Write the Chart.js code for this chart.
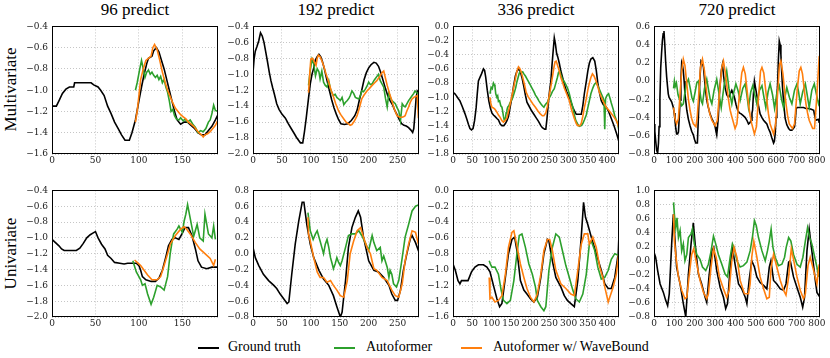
<!DOCTYPE html>
<html>
<head>
<meta charset="utf-8">
<script src="https://cdn.jsdelivr.net/npm/chart.js@4.4.1/dist/chart.umd.min.js"></script>
<style>
body { margin: 0; background: #fff; width: 830px; height: 358px; position: relative; overflow: hidden; font-family: "Liberation Serif", serif; }
canvas { position: absolute; }
.title { position: absolute; width: 166px; text-align: center; font-size: 17px; line-height: 17px; top: 1px; color: #000; }
.rowlab { position: absolute; font-size: 17px; line-height: 17px; width: 120px; text-align: center; transform: rotate(-90deg); color: #000; }
.leg { position: absolute; top: 339px; font-size: 14px; line-height: 16px; color: #000; }
.legline { position: absolute; top: 347px; height: 1.5px; width: 21px; }
</style>
</head>
<body>
<div class="title" style="left:52px">96 predict</div>
<div class="title" style="left:253px">192 predict</div>
<div class="title" style="left:453px">336 predict</div>
<div class="title" style="left:654px">720 predict</div>
<div class="rowlab" style="left:-50px;top:81px">Multivariate</div>
<div class="rowlab" style="left:-50px;top:245px">Univariate</div>

<div class="legline" style="left:198px;background:#000"></div>
<div class="leg" style="left:228px">Ground truth</div>
<div class="legline" style="left:334px;background:#2ca02c"></div>
<div class="leg" style="left:366px">Autoformer</div>
<div class="legline" style="left:461px;background:#ff7f0e"></div>
<div class="leg" style="left:493px">Autoformer w/ WaveBound</div>

<canvas id="c1"></canvas><canvas id="c2"></canvas><canvas id="c3"></canvas><canvas id="c4"></canvas>
<canvas id="c5"></canvas><canvas id="c6"></canvas><canvas id="c7"></canvas><canvas id="c8"></canvas>

<script>
// ---- tick labels ----
var xTicks96 = [0, 50, 100, 150];
var xTicks192 = [0, 50, 100, 150, 200, 250];
var xTicks336 = [0, 50, 100, 150, 200, 250, 300, 350, 400];
var xTicks720 = [0, 100, 200, 300, 400, 500, 600, 700, 800];

// ---- Multivariate, 96 ----
var mv96Truth = [[0,-1.15],[5,-1.15],[8,-1.1],[12,-1.03],[16,-0.99],[20,-0.97],[25,-0.97],[26,-0.93],[45,-0.93],[48,-0.95],[53,-0.97],[56,-1.0],[60,-1.05],[64,-1.15],[68,-1.22],[72,-1.3],[76,-1.36],[80,-1.42],[84,-1.47],[89,-1.47],[92,-1.4],[96,-1.28],[100,-1.1],[103,-0.97],[106,-0.85],[109,-0.75],[111,-0.7],[115,-0.68],[117,-0.63],[120,-0.6],[123,-0.64],[126,-0.72],[129,-0.8],[132,-0.9],[135,-1.0],[138,-1.1],[141,-1.2],[144,-1.28],[148,-1.32],[152,-1.3],[156,-1.3],[160,-1.33],[164,-1.36],[168,-1.4],[172,-1.42],[176,-1.42],[180,-1.38],[184,-1.34],[188,-1.28],[191,-1.23]];
var mv96Auto = [[96,-1.0],[98,-0.93],[101,-0.8],[103,-0.72],[105,-0.8],[107,-0.88],[109,-0.83],[111,-0.81],[113,-0.85],[115,-0.83],[117,-0.86],[119,-0.88],[121,-0.86],[123,-0.9],[125,-0.87],[127,-0.93],[129,-0.9],[131,-0.97],[133,-1.02],[135,-1.1],[137,-1.2],[139,-1.18],[141,-1.24],[143,-1.27],[146,-1.28],[148,-1.26],[151,-1.29],[153,-1.27],[156,-1.3],[159,-1.28],[162,-1.32],[165,-1.35],[168,-1.4],[171,-1.38],[174,-1.39],[177,-1.36],[180,-1.3],[182,-1.28],[184,-1.22],[186,-1.14],[188,-1.19],[191,-1.2]];
var mv96Wave = [[96,-1.3],[98,-1.2],[100,-1.05],[102,-0.9],[105,-0.8],[108,-0.72],[111,-0.7],[114,-0.68],[116,-0.6],[118,-0.57],[121,-0.62],[124,-0.72],[127,-0.83],[130,-0.92],[133,-1.0],[136,-1.06],[139,-1.12],[142,-1.17],[145,-1.2],[148,-1.23],[151,-1.25],[154,-1.27],[157,-1.3],[160,-1.32],[163,-1.34],[166,-1.37],[169,-1.4],[172,-1.42],[174,-1.44],[176,-1.42],[179,-1.41],[182,-1.39],[185,-1.36],[188,-1.33],[191,-1.28]];

// ---- Multivariate, 192 ----
var mv192Truth = [[0,-0.98],[2,-0.8],[4,-0.71],[7,-0.65],[10,-0.58],[13,-0.48],[16,-0.52],[19,-0.6],[22,-0.72],[25,-0.84],[28,-0.97],[31,-1.08],[34,-1.17],[37,-1.25],[41,-1.37],[45,-1.44],[50,-1.5],[56,-1.55],[61,-1.62],[66,-1.68],[71,-1.74],[75,-1.79],[79,-1.83],[82,-1.86],[86,-1.86],[89,-1.72],[92,-1.55],[96,-1.3],[99,-1.12],[102,-1.0],[105,-0.92],[108,-0.82],[111,-0.78],[114,-0.75],[117,-0.78],[120,-0.84],[124,-0.95],[128,-1.08],[132,-1.2],[136,-1.32],[140,-1.42],[144,-1.5],[148,-1.57],[152,-1.62],[158,-1.63],[164,-1.62],[170,-1.58],[176,-1.52],[180,-1.45],[184,-1.32],[188,-1.2],[192,-1.07],[196,-0.98],[200,-0.92],[204,-0.88],[209,-0.85],[213,-0.86],[217,-0.9],[221,-0.98],[225,-1.08],[229,-1.18],[233,-1.27],[237,-1.33],[241,-1.38],[245,-1.45],[249,-1.51],[253,-1.57],[257,-1.62],[261,-1.64],[265,-1.65],[269,-1.67],[273,-1.7],[276,-1.73],[278,-1.68],[280,-1.5],[282,-1.3],[284,-1.21],[287,-1.24]];
var mv192Auto = [[96,-1.14],[99,-0.95],[102,-0.81],[105,-0.87],[108,-1.02],[111,-0.93],[114,-0.97],[116,-1.06],[119,-0.96],[122,-1.1],[125,-1.14],[128,-1.16],[131,-1.08],[134,-1.19],[137,-1.24],[139,-1.27],[142,-1.25],[145,-1.29],[148,-1.31],[151,-1.33],[154,-1.29],[157,-1.38],[160,-1.35],[163,-1.33],[166,-1.3],[168,-1.27],[171,-1.21],[174,-1.24],[177,-1.29],[180,-1.3],[183,-1.31],[186,-1.26],[188,-1.21],[191,-1.22],[194,-1.19],[197,-1.15],[200,-1.1],[203,-1.13],[206,-1.12],[209,-1.08],[211,-1.06],[214,-1.03],[217,-1.0],[220,-1.08],[223,-1.12],[226,-1.16],[229,-1.3],[232,-1.41],[235,-1.23],[238,-1.3],[240,-1.33],[243,-1.35],[246,-1.37],[249,-1.42],[252,-1.46],[255,-1.58],[258,-1.37],[261,-1.4],[263,-1.41],[266,-1.37],[269,-1.33],[272,-1.3],[275,-1.27],[278,-1.24],[280,-1.21],[283,-1.23],[287,-1.25]];
var mv192Wave = [[96,-1.23],[98,-1.0],[100,-0.81],[103,-0.8],[105,-0.83],[107,-0.86],[109,-0.89],[111,-0.8],[113,-0.76],[116,-0.78],[119,-0.83],[122,-0.89],[126,-0.99],[131,-1.1],[135,-1.2],[139,-1.28],[143,-1.37],[148,-1.46],[152,-1.51],[157,-1.56],[161,-1.6],[165,-1.62],[168,-1.64],[171,-1.63],[175,-1.59],[180,-1.52],[184,-1.42],[188,-1.31],[192,-1.26],[197,-1.21],[201,-1.18],[206,-1.14],[210,-1.11],[214,-1.08],[217,-1.05],[220,-1.02],[223,-0.98],[226,-0.96],[229,-1.05],[232,-1.14],[236,-1.24],[240,-1.33],[244,-1.43],[249,-1.52],[254,-1.54],[258,-1.54],[261,-1.53],[263,-1.52],[266,-1.46],[269,-1.41],[272,-1.35],[275,-1.31],[278,-1.29],[281,-1.28],[284,-1.27],[286,-1.55]];

// ---- Multivariate, 336 ----
var mv336Truth = [[0,-0.93],[5,-0.95],[9,-0.98],[14,-1.02],[18,-1.05],[24,-1.13],[31,-1.23],[36,-1.31],[40,-1.38],[44,-1.44],[48,-1.46],[52,-1.44],[56,-1.33],[60,-1.15],[63,-0.95],[66,-0.77],[70,-0.72],[74,-0.67],[79,-0.6],[82,-0.62],[85,-0.72],[89,-0.9],[93,-1.05],[97,-1.15],[101,-1.22],[105,-1.25],[109,-1.27],[114,-1.3],[118,-1.32],[123,-1.38],[127,-1.4],[132,-1.4],[136,-1.37],[140,-1.33],[144,-1.27],[148,-1.15],[153,-1.0],[157,-0.85],[162,-0.7],[166,-0.63],[171,-0.6],[175,-0.64],[179,-0.72],[184,-0.85],[188,-0.97],[192,-1.07],[198,-1.13],[204,-1.19],[210,-1.24],[216,-1.29],[222,-1.34],[228,-1.4],[232,-1.43],[238,-1.45],[241,-1.45],[244,-1.3],[248,-1.05],[251,-0.9],[254,-0.78],[257,-0.55],[260,-0.35],[263,-0.16],[266,-0.25],[269,-0.38],[272,-0.43],[276,-0.52],[280,-0.63],[285,-0.73],[289,-0.82],[295,-0.92],[302,-1.0],[307,-1.08],[311,-1.14],[316,-1.2],[320,-1.24],[333,-1.24],[337,-1.12],[341,-0.95],[346,-0.78],[350,-0.63],[354,-0.52],[358,-0.46],[363,-0.44],[368,-0.49],[372,-0.62],[376,-0.8],[381,-0.95],[385,-1.05],[390,-1.1],[398,-1.14],[404,-1.2],[411,-1.3],[418,-1.4],[424,-1.5],[428,-1.57],[431,-1.63]];
var mv336Auto = [[96,-0.95],[99,-0.86],[102,-0.88],[105,-0.8],[107,-0.82],[109,-0.85],[111,-0.95],[114,-1.0],[116,-0.98],[118,-1.06],[121,-1.05],[124,-1.12],[127,-1.14],[129,-1.2],[131,-1.27],[133,-1.32],[136,-1.3],[138,-1.22],[140,-1.18],[142,-1.14],[145,-1.12],[148,-1.08],[151,-1.05],[154,-1.02],[157,-0.97],[160,-0.92],[163,-0.86],[166,-0.78],[169,-0.72],[172,-0.66],[175,-0.63],[178,-0.65],[181,-0.64],[184,-0.67],[188,-0.7],[192,-0.74],[196,-0.78],[201,-0.83],[205,-0.87],[210,-0.92],[214,-0.97],[219,-1.01],[223,-1.05],[228,-1.09],[232,-1.12],[236,-1.14],[240,-1.1],[245,-1.07],[249,-1.02],[254,-0.97],[258,-0.92],[263,-0.88],[267,-0.8],[271,-0.72],[274,-0.65],[277,-0.63],[280,-0.68],[284,-0.74],[289,-0.78],[293,-0.82],[298,-0.88],[302,-0.95],[306,-1.04],[311,-1.14],[315,-1.25],[319,-1.33],[324,-1.38],[328,-1.41],[333,-1.4],[337,-1.37],[341,-1.32],[346,-1.25],[350,-1.15],[354,-1.05],[358,-0.95],[363,-0.87],[367,-0.82],[372,-0.79],[376,-0.84],[381,-0.9],[385,-0.95],[389,-1.0],[392,-1.05],[394,-1.45],[396,-1.02],[400,-0.97],[404,-0.95],[408,-1.02],[411,-1.08],[416,-1.17],[420,-1.26],[424,-1.32],[428,-1.38],[431,-1.48]];
var mv336Wave = [[96,-1.0],[98,-1.08],[101,-1.14],[105,-1.15],[109,-1.17],[114,-1.21],[118,-1.25],[122,-1.28],[127,-1.33],[131,-1.35],[135,-1.33],[140,-1.29],[144,-1.2],[149,-1.08],[153,-0.98],[158,-0.85],[162,-0.74],[166,-0.63],[170,-0.57],[173,-0.59],[177,-0.64],[181,-0.72],[186,-0.83],[190,-0.93],[195,-0.99],[201,-1.04],[207,-1.09],[214,-1.14],[220,-1.19],[226,-1.23],[232,-1.26],[236,-1.26],[241,-1.22],[245,-1.13],[249,-1.0],[254,-0.85],[258,-0.72],[262,-0.58],[265,-0.5],[268,-0.49],[272,-0.56],[276,-0.63],[280,-0.72],[285,-0.8],[289,-0.87],[295,-0.95],[302,-1.05],[308,-1.18],[315,-1.3],[320,-1.37],[324,-1.4],[329,-1.4],[333,-1.37],[337,-1.27],[341,-1.15],[346,-1.02],[350,-0.9],[354,-0.8],[358,-0.72],[362,-0.67],[366,-0.7],[370,-0.75],[375,-0.83],[380,-0.93],[385,-1.0],[392,-1.08],[398,-1.14],[404,-1.18],[411,-1.23],[418,-1.28],[424,-1.33],[428,-1.38],[431,-1.44]];

// ---- Multivariate, 720 ----
var mv720Truth = [[0,-0.47],[4,-0.55],[8,-0.65],[13,-0.76],[18,-0.79],[22,-0.68],[25,-0.5],[29,-0.2],[33,0.15],[37,0.3],[41,0.44],[45,0.52],[49,0.55],[53,0.4],[57,0.22],[62,0.05],[66,-0.05],[70,-0.14],[74,-0.18],[80,-0.2],[87,-0.23],[95,-0.29],[99,-0.35],[103,-0.43],[107,-0.52],[111,-0.58],[116,-0.58],[120,-0.56],[124,-0.4],[128,-0.21],[132,0.0],[136,0.2],[140,0.17],[144,0.11],[148,0.0],[152,-0.14],[157,-0.24],[161,-0.32],[169,-0.42],[177,-0.49],[185,-0.55],[193,-0.59],[199,-0.64],[205,-0.68],[213,-0.68],[217,-0.45],[221,-0.21],[226,0.05],[231,0.22],[237,0.2],[243,0.15],[248,0.02],[254,-0.12],[260,-0.22],[267,-0.29],[275,-0.36],[284,-0.41],[292,-0.45],[300,-0.5],[304,-0.55],[308,-0.59],[312,-0.5],[316,-0.39],[321,-0.15],[326,0.0],[331,0.12],[336,0.18],[342,0.05],[349,-0.07],[357,-0.15],[366,-0.18],[374,-0.14],[382,-0.1],[389,-0.14],[395,-0.18],[403,-0.26],[411,-0.32],[419,-0.35],[428,-0.36],[438,-0.38],[448,-0.4],[456,-0.43],[464,-0.47],[470,-0.46],[477,-0.43],[481,-0.35],[484,-0.32],[488,-0.15],[493,0.0],[499,-0.08],[505,-0.16],[513,-0.27],[521,-0.36],[530,-0.4],[538,-0.43],[546,-0.45],[554,-0.47],[562,-0.52],[570,-0.56],[578,-0.62],[587,-0.68],[591,-0.66],[595,-0.58],[599,-0.4],[603,-0.2],[607,-0.03],[611,0.25],[615,0.44],[619,0.4],[623,0.29],[627,0.1],[631,-0.07],[637,-0.25],[644,-0.41],[652,-0.48],[661,-0.52],[669,-0.54],[677,-0.54],[684,-0.52],[690,-0.5],[694,-0.42],[698,-0.3],[704,-0.29],[710,-0.29],[722,-0.29],[734,-0.29],[746,-0.3],[759,-0.3],[772,-0.31],[784,-0.32],[788,-0.37],[792,-0.41],[796,-0.43],[800,-0.43],[806,-0.42],[810,-0.44],[815,-0.43]];
var mv720Auto = [[96,-0.08],[100,0.0],[104,-0.06],[110,-0.02],[118,-0.15],[128,-0.22],[136,-0.27],[144,-0.25],[152,-0.12],[160,-0.02],[169,0.02],[178,-0.08],[186,-0.18],[193,-0.22],[202,-0.12],[210,-0.02],[218,0.0],[226,-0.12],[232,-0.22],[238,-0.25],[248,-0.08],[259,0.02],[268,-0.1],[276,-0.2],[284,-0.25],[295,-0.1],[308,0.02],[318,-0.12],[330,-0.29],[344,-0.05],[357,0.11],[368,-0.08],[382,-0.25],[392,-0.12],[402,-0.03],[412,-0.1],[423,-0.21],[436,-0.08],[448,-0.03],[456,-0.15],[464,-0.29],[475,-0.12],[485,-0.05],[495,-0.15],[505,-0.25],[518,-0.1],[530,-0.05],[540,-0.18],[549,-0.29],[560,-0.12],[570,-0.03],[582,-0.15],[592,-0.3],[604,-0.12],[615,-0.05],[626,-0.2],[636,-0.29],[645,-0.15],[652,-0.07],[665,-0.18],[677,-0.25],[690,-0.1],[702,-0.03],[710,-0.12],[718,-0.25],[730,-0.12],[743,-0.03],[752,-0.15],[762,-0.29],[775,-0.1],[787,-0.03],[798,-0.15],[808,-0.25],[815,-0.2]];
var mv720Wave = [[96,-0.29],[103,-0.41],[111,-0.47],[120,-0.41],[128,-0.14],[136,0.11],[144,0.24],[152,0.17],[161,-0.03],[169,-0.2],[177,-0.32],[185,-0.41],[193,-0.47],[206,-0.5],[212,-0.4],[218,-0.21],[228,0.15],[238,0.24],[248,0.11],[256,-0.08],[264,-0.25],[274,-0.36],[284,-0.43],[300,-0.49],[311,-0.43],[321,-0.14],[333,0.15],[341,0.22],[349,0.11],[358,-0.06],[366,-0.21],[374,-0.32],[382,-0.39],[398,-0.52],[407,-0.47],[418,-0.18],[431,0.09],[439,0.15],[448,0.08],[456,-0.08],[464,-0.25],[472,-0.38],[480,-0.47],[493,-0.58],[503,-0.5],[513,-0.18],[523,0.11],[530,0.15],[539,0.09],[546,-0.05],[554,-0.21],[562,-0.36],[570,-0.47],[587,-0.58],[597,-0.47],[608,-0.1],[616,0.18],[623,0.22],[633,0.08],[640,-0.08],[648,-0.25],[656,-0.38],[664,-0.47],[680,-0.52],[690,-0.47],[703,-0.1],[713,0.11],[721,0.15],[729,0.08],[737,-0.08],[746,-0.25],[754,-0.35],[762,-0.43],[779,-0.52],[788,-0.52],[798,-0.21],[805,0.04],[811,0.27],[815,0.28]];

// ---- Univariate, 96 ----
var uv96Truth = [[0,-1.02],[4,-1.06],[8,-1.1],[11,-1.14],[14,-1.16],[17,-1.16],[28,-1.16],[32,-1.13],[36,-1.07],[40,-1.0],[44,-0.96],[47,-0.94],[50,-0.92],[53,-1.0],[57,-1.08],[61,-1.14],[64,-1.22],[68,-1.26],[72,-1.31],[78,-1.32],[83,-1.33],[87,-1.32],[91,-1.32],[97,-1.32],[100,-1.35],[102,-1.41],[104,-1.49],[108,-1.53],[114,-1.55],[119,-1.55],[123,-1.51],[127,-1.41],[131,-1.24],[134,-1.1],[138,-1.02],[142,-1.0],[146,-1.02],[150,-0.94],[153,-0.87],[157,-0.87],[161,-0.97],[165,-1.14],[168,-1.29],[172,-1.37],[178,-1.39],[184,-1.37],[188,-1.37],[191,-1.37]];
var uv96Auto = [[93,-1.29],[97,-1.43],[100,-1.49],[102,-1.53],[104,-1.6],[107,-1.58],[110,-1.71],[114,-1.84],[117,-1.75],[121,-1.6],[125,-1.62],[129,-1.66],[133,-1.49],[136,-1.2],[138,-1.06],[140,-0.95],[144,-0.89],[146,-0.85],[150,-0.93],[152,-0.79],[154,-0.7],[156,-0.58],[159,-0.75],[163,-0.98],[167,-0.83],[170,-1.0],[174,-1.04],[176,-0.7],[180,-0.95],[184,-1.0],[186,-0.85],[188,-1.02]];
var uv96Wave = [[95,-1.28],[98,-1.31],[102,-1.35],[106,-1.41],[110,-1.47],[115,-1.53],[121,-1.53],[125,-1.49],[129,-1.35],[133,-1.2],[136,-1.08],[142,-0.97],[148,-0.89],[152,-0.86],[155,-0.89],[159,-0.95],[165,-1.06],[170,-1.14],[176,-1.2],[182,-1.26],[186,-1.35],[188,-1.27]];

// ---- Univariate, 192 ----
var uv192Truth = [[0,0.08],[4,-0.05],[10,-0.15],[18,-0.26],[27,-0.34],[36,-0.4],[41,-0.44],[47,-0.51],[53,-0.57],[59,-0.63],[62,-0.61],[67,-0.26],[73,0.12],[79,0.41],[85,0.65],[88,0.65],[93,0.37],[99,0.12],[105,-0.05],[114,-0.21],[122,-0.32],[131,-0.4],[139,-0.53],[145,-0.67],[151,-0.8],[154,-0.74],[160,-0.34],[165,0.08],[171,0.33],[177,0.46],[182,0.54],[186,0.46],[191,0.21],[200,-0.09],[209,-0.21],[217,-0.23],[226,-0.3],[235,-0.4],[240,-0.51],[246,-0.59],[250,-0.59],[255,-0.46],[260,-0.21],[266,0.0],[272,0.19],[275,0.23],[281,0.14],[287,0.02]];
var uv192Auto = [[95,0.52],[99,0.29],[104,0.18],[108,0.25],[111,0.29],[114,0.21],[116,0.16],[119,0.08],[122,0.0],[125,0.12],[128,0.18],[131,0.08],[134,-0.05],[137,-0.13],[139,-0.19],[142,-0.13],[145,-0.05],[148,-0.11],[151,-0.15],[154,-0.09],[160,0.08],[165,0.23],[171,0.25],[177,0.25],[183,0.29],[188,0.23],[194,0.14],[200,0.04],[206,0.23],[209,0.14],[214,0.04],[220,0.08],[223,-0.09],[226,-0.03],[232,-0.17],[235,-0.3],[237,-0.21],[240,-0.26],[243,-0.38],[248,-0.42],[252,-0.34],[258,-0.05],[263,0.21],[269,0.37],[275,0.54],[281,0.6],[287,0.62]];
var uv192Wave = [[95,0.46],[96,0.25],[99,0.16],[105,-0.05],[111,-0.23],[116,-0.3],[122,-0.3],[128,-0.36],[134,-0.34],[139,-0.4],[145,-0.46],[151,-0.53],[157,-0.55],[163,-0.34],[168,0.0],[174,0.16],[180,0.29],[186,0.33],[191,0.21],[197,0.08],[203,0.0],[209,-0.19],[214,-0.21],[223,-0.3],[232,-0.34],[240,-0.46],[246,-0.53],[252,-0.55],[258,-0.38],[263,-0.09],[269,0.12],[275,0.29],[281,0.27],[286,0.12]];

// ---- Univariate, 336 ----
var uv336Truth = [[0,-0.93],[6,-1.01],[13,-1.14],[18,-1.18],[22,-1.14],[31,-1.14],[39,-1.14],[48,-1.03],[57,-0.97],[66,-0.94],[79,-0.94],[88,-0.97],[96,-1.03],[105,-1.2],[114,-1.37],[121,-1.47],[127,-1.43],[136,-1.1],[144,-0.8],[153,-0.62],[160,-0.59],[166,-0.76],[175,-1.14],[184,-1.26],[192,-1.31],[201,-1.37],[210,-1.41],[219,-1.35],[228,-1.1],[236,-0.8],[245,-0.62],[249,-0.64],[258,-0.89],[267,-1.1],[280,-1.22],[289,-1.33],[297,-1.39],[306,-1.43],[315,-1.47],[324,-1.14],[333,-0.59],[339,-0.15],[344,-0.34],[350,-0.43],[359,-0.59],[372,-0.8],[385,-1.01],[394,-1.18],[403,-1.24],[411,-1.24],[420,-1.1],[429,-0.8],[431,-0.55]];
var uv336Auto = [[94,-0.89],[97,-0.93],[101,-0.97],[109,-0.97],[118,-1.06],[125,-1.26],[131,-1.39],[140,-1.43],[149,-1.39],[158,-1.14],[166,-0.8],[172,-0.57],[179,-0.55],[188,-0.72],[197,-0.93],[206,-1.06],[214,-1.22],[219,-1.39],[228,-1.47],[236,-1.52],[241,-1.47],[249,-1.01],[258,-0.72],[267,-0.55],[276,-0.59],[284,-0.76],[293,-0.95],[302,-1.1],[311,-1.26],[319,-1.37],[328,-1.41],[337,-1.31],[346,-1.06],[354,-0.68],[359,-0.64],[368,-0.76],[376,-0.97],[385,-1.12],[394,-1.1],[403,-1.01],[411,-0.87],[420,-0.8],[429,-0.82],[431,-0.87]];
var uv336Wave = [[94,-1.1],[96,-1.37],[101,-1.35],[109,-1.41],[118,-1.39],[127,-1.33],[136,-1.06],[144,-0.72],[153,-0.53],[158,-0.51],[166,-0.7],[175,-0.93],[184,-1.1],[192,-1.24],[201,-1.35],[210,-1.41],[219,-1.31],[228,-1.06],[236,-0.76],[245,-0.62],[251,-0.62],[258,-0.76],[267,-1.01],[280,-1.18],[293,-1.24],[306,-1.31],[315,-1.33],[324,-1.01],[333,-0.68],[341,-0.55],[350,-0.55],[354,-0.68],[363,-0.59],[372,-0.72],[381,-0.97],[389,-1.1],[394,-1.22],[403,-1.41],[407,-1.35],[416,-1.22],[424,-1.06],[429,-0.85],[431,-0.87]];

// ---- Univariate, 720 ----
var uv720Truth = [[0,0.12],[8,0.05],[18,-0.14],[30,-0.33],[46,-0.45],[57,-0.56],[67,-0.64],[75,-0.47],[87,0.25],[95,0.66],[103,0.29],[111,-0.09],[128,-0.33],[144,-0.61],[156,-0.8],[169,-0.19],[182,0.24],[193,0.54],[202,0.24],[218,-0.19],[234,-0.33],[251,-0.52],[259,-0.59],[270,-0.23],[284,0.14],[293,0.19],[308,-0.14],[325,-0.38],[341,-0.52],[352,-0.68],[361,-0.61],[374,-0.09],[385,0.19],[398,-0.05],[415,-0.33],[431,-0.4],[448,-0.52],[456,-0.61],[467,-0.28],[480,0.0],[493,-0.09],[505,-0.23],[521,-0.31],[538,-0.35],[554,-0.4],[566,-0.09],[574,0.0],[587,-0.28],[603,-0.33],[620,-0.4],[636,-0.42],[648,-0.33],[661,-0.02],[669,0.0],[685,-0.23],[702,-0.38],[718,-0.52],[730,-0.66],[739,-0.52],[751,0.14],[762,0.45],[775,0.14],[792,-0.28],[800,-0.45],[815,-0.52]];
var uv720Auto = [[96,0.83],[100,0.66],[107,0.47],[113,0.61],[120,0.33],[128,0.43],[136,0.14],[144,0.24],[152,0.0],[161,0.09],[169,0.33],[182,0.38],[189,0.45],[198,0.24],[210,0.09],[226,0.02],[238,-0.09],[254,-0.14],[267,-0.05],[279,0.12],[292,0.35],[303,0.24],[316,0.09],[333,-0.05],[349,-0.19],[361,-0.23],[374,0.05],[385,0.24],[395,0.17],[407,0.0],[423,-0.09],[439,-0.07],[456,-0.02],[472,0.14],[484,0.35],[493,0.57],[502,0.5],[513,0.33],[530,0.14],[546,0.0],[557,0.14],[566,0.28],[575,0.45],[584,0.19],[595,0.05],[611,-0.07],[628,-0.05],[641,0.05],[649,0.19],[661,0.33],[672,0.28],[685,0.09],[702,-0.05],[718,-0.09],[731,0.05],[743,0.28],[754,0.47],[764,0.33],[775,0.24],[789,0.05],[800,-0.09],[808,-0.23]];
var uv720Wave = [[96,0.66],[100,0.29],[108,0.05],[120,-0.23],[136,-0.42],[152,-0.54],[161,-0.52],[172,-0.23],[185,0.09],[195,0.17],[210,-0.05],[226,-0.28],[243,-0.45],[259,-0.54],[267,-0.47],[280,-0.09],[292,0.17],[305,0.05],[321,-0.23],[341,-0.4],[357,-0.52],[369,-0.42],[382,0.0],[393,0.19],[407,0.05],[423,-0.28],[444,-0.47],[464,-0.47],[472,-0.33],[480,0.05],[490,0.28],[505,0.05],[521,-0.23],[538,-0.4],[554,-0.54],[566,-0.52],[575,-0.09],[587,0.09],[603,-0.09],[620,-0.28],[636,-0.42],[648,-0.49],[661,-0.23],[674,0.17],[685,0.02],[702,-0.23],[718,-0.42],[734,-0.54],[743,-0.47],[756,-0.07],[767,0.05],[784,-0.14],[800,-0.33],[811,-0.05]];

var panels = [
    {id: "c1", left: 52, top: 25, h: 129, xMax: 191, xTicks: xTicks96, yMin: -1.6, yMax: -0.4, truth: mv96Truth, auto: mv96Auto, wave: mv96Wave},
    {id: "c2", left: 253, top: 25, h: 129, xMax: 287, xTicks: xTicks192, yMin: -2.0, yMax: -0.4, truth: mv192Truth, auto: mv192Auto, wave: mv192Wave},
    {id: "c3", left: 453, top: 25, h: 129, xMax: 431, xTicks: xTicks336, yMin: -1.8, yMax: 0.0, truth: mv336Truth, auto: mv336Auto, wave: mv336Wave},
    {id: "c4", left: 654, top: 25, h: 129, xMax: 815, xTicks: xTicks720, yMin: -0.8, yMax: 0.6, truth: mv720Truth, auto: mv720Auto, wave: mv720Wave},
    {id: "c5", left: 52, top: 189, h: 128, xMax: 191, xTicks: xTicks96, yMin: -2.0, yMax: -0.4, truth: uv96Truth, auto: uv96Auto, wave: uv96Wave},
    {id: "c6", left: 253, top: 189, h: 128, xMax: 287, xTicks: xTicks192, yMin: -0.8, yMax: 0.8, truth: uv192Truth, auto: uv192Auto, wave: uv192Wave},
    {id: "c7", left: 453, top: 189, h: 128, xMax: 431, xTicks: xTicks336, yMin: -1.6, yMax: 0.0, truth: uv336Truth, auto: uv336Auto, wave: uv336Wave},
    {id: "c8", left: 654, top: 189, h: 128, xMax: 815, xTicks: xTicks720, yMin: -0.8, yMax: 1.0, truth: uv720Truth, auto: uv720Auto, wave: uv720Wave}
];

var AXW = 44, AXH = 16, PADT = 8, PADR = 8, PLOTW = 166;

var framePlugin = {
    id: "frame",
    afterDraw: function(chart) {
        var ca = chart.chartArea, c = chart.ctx;
        c.save();
        c.setLineDash([]);
        c.strokeStyle = "#000";
        c.lineWidth = 1;
        c.strokeRect(Math.round(ca.left) + 0.5, Math.round(ca.top) + 0.5, Math.round(ca.right - ca.left) - 1, Math.round(ca.bottom - ca.top) - 1);
        c.restore();
    }
};

function toXY(pts) {
    return pts.map(function(p) { return {x: p[0], y: p[1]}; });
}

function yTickList(lo, hi) {
    var out = [];
    var n = Math.round((hi - lo) / 0.2);
    for (var i = 0; i <= n; i++) out.push({value: Math.round((lo + i * 0.2) * 10) / 10});
    return out;
}

function fmt(v) {
    var s = Math.abs(v) < 1e-9 ? "0.0" : v.toFixed(1);
    return s.replace("-", "\u2212");
}

function makeChart(p)
{
    var cv = document.getElementById(p.id);
    cv.width = PLOTW + AXW + PADR;
    cv.height = p.h + PADT + AXH;
    cv.style.left = (p.left - AXW) + "px";
    cv.style.top = (p.top - PADT) + "px";
    var font = {family: "'DejaVu Serif', serif", size: 9};
    new Chart(cv, {
        type: "line",
        data: {
            datasets: [
                {label: "Ground truth", data: toXY(p.truth), borderColor: "#000", order: 3},
                {label: "Autoformer", data: toXY(p.auto), borderColor: "#2ca02c", order: 2},
                {label: "Autoformer w/ WaveBound", data: toXY(p.wave), borderColor: "#ff7f0e", order: 1}
            ]
        },
        options: {
            responsive: false,
            animation: false,
            devicePixelRatio: 1,
            layout: {padding: {top: PADT, right: PADR, left: 0, bottom: 0}},
            elements: {
                line: {borderWidth: 1.6, tension: 0, fill: false},
                point: {radius: 0}
            },
            plugins: {legend: {display: false}, tooltip: {enabled: false}},
            scales: {
                x: {
                    type: "linear", min: 0, max: p.xMax,
                    afterBuildTicks: function(s) { s.ticks = p.xTicks.map(function(v) { return {value: v}; }); },
                    afterFit: function(s) { s.height = AXH; },
                    ticks: {font: font, color: "#222", padding: 1, maxRotation: 0, autoSkip: false},
                    grid: {color: "#b8b8b8", lineWidth: 0.8, drawTicks: false},
                    border: {display: false, dash: [1, 2]}
                },
                y: {
                    type: "linear", min: p.yMin, max: p.yMax,
                    afterBuildTicks: function(s) { s.ticks = yTickList(p.yMin, p.yMax); },
                    afterFit: function(s) { s.width = AXW; },
                    ticks: {font: font, color: "#222", padding: 4, autoSkip: false, callback: function(v) { return fmt(v); }},
                    grid: {color: "#b8b8b8", lineWidth: 0.8, drawTicks: false},
                    border: {display: false, dash: [1, 2]}
                }
            }
        },
        plugins: [framePlugin]
    });
}

panels.forEach(makeChart);
</script>
</body>
</html>
